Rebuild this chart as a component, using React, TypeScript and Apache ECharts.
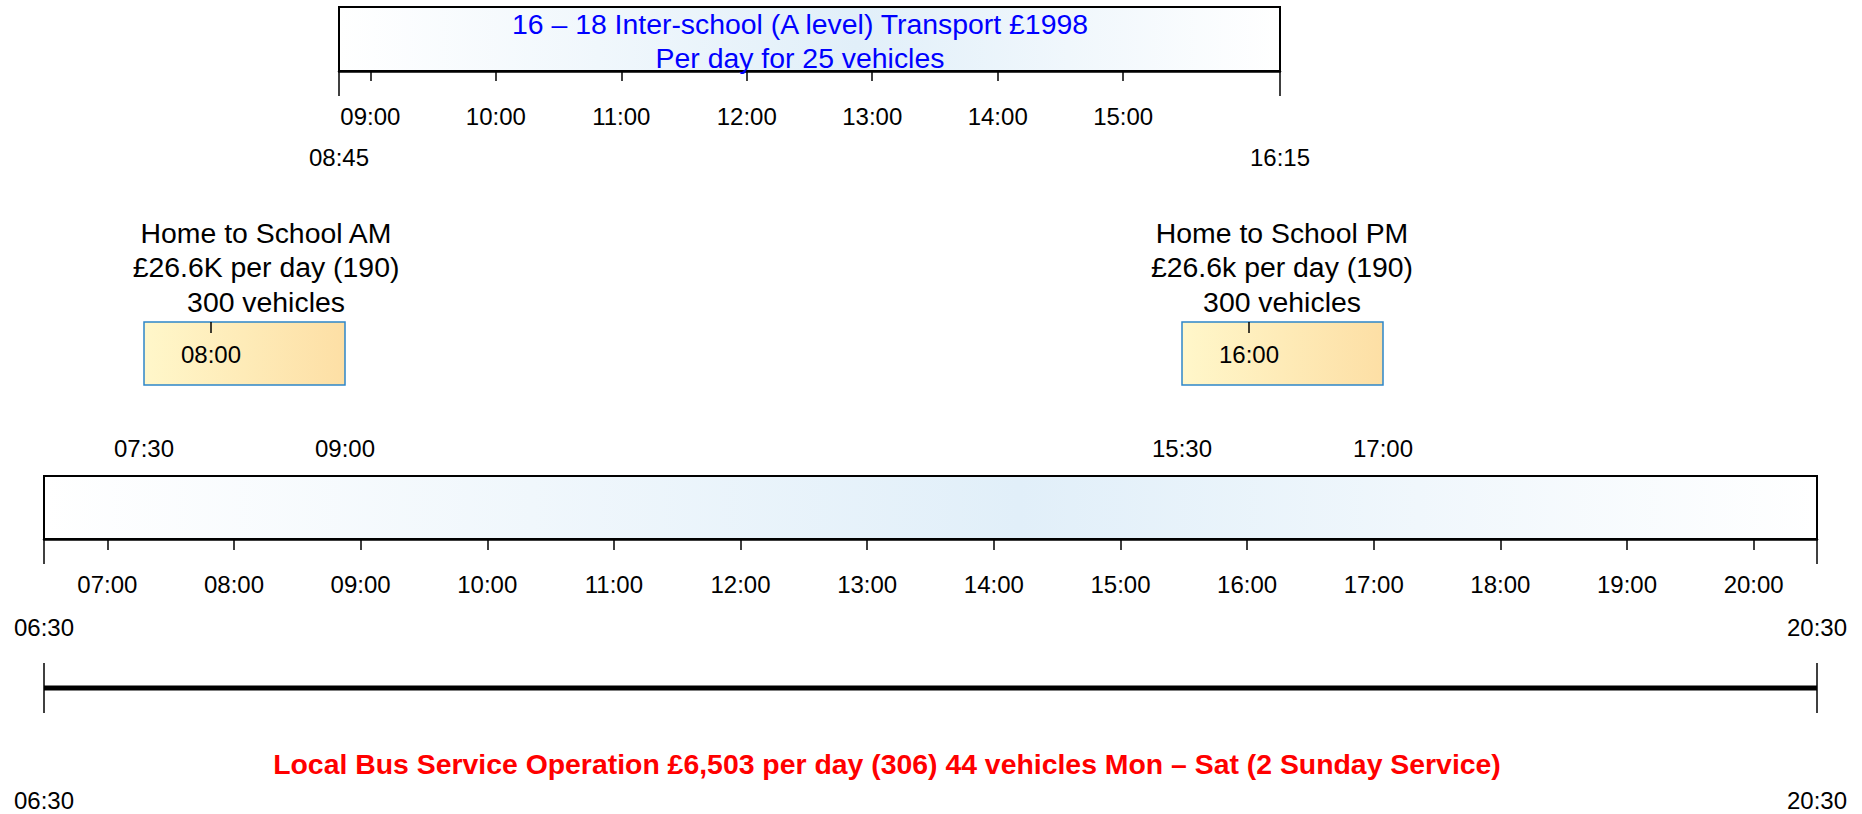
import React, { useEffect, useRef } from "react";
import * as echarts from "echarts";

// ---- data ----
const interSchoolSpan = ["08:45", "16:15"];
const interSchoolHours = ["09:00", "10:00", "11:00", "12:00", "13:00", "14:00", "15:00"];
const interSchoolText = ["16 – 18 Inter-school (A level) Transport £1998", "Per day for 25 vehicles"];

const amSpan = ["07:30", "09:00"];
const amMarks = ["08:00"];
const amText = ["Home to School AM", "£26.6K per day (190)", "300 vehicles"];

const pmSpan = ["15:30", "17:00"];
const pmMarks = ["16:00"];
const pmText = ["Home to School PM", "£26.6k per day (190)", "300 vehicles"];

const daySpan = ["06:30", "20:30"];
const dayHours = [
  "07:00", "08:00", "09:00", "10:00", "11:00", "12:00", "13:00",
  "14:00", "15:00", "16:00", "17:00", "18:00", "19:00", "20:00",
];

const busSpan = ["06:30", "20:30"];
const busText =
  "Local Bus Service Operation £6,503 per day (306) 44 vehicles Mon – Sat (2 Sunday Service)";

// ---- helpers ----
const FONT = "'Liberation Sans', Arial, Helvetica, sans-serif";
const toMin = (s: string) => {
  const [h, m] = s.split(":").map(Number);
  return h * 60 + m;
};
const pad = (n: number) => (n < 10 ? "0" + n : "" + n);
const fmt = (v: number) => pad(Math.floor(v / 60)) + ":" + pad(Math.round(v % 60));

const blueGrad = {
  type: "linear", x: 0, y: 0, x2: 1, y2: 0,
  colorStops: [
    { offset: 0, color: "#ffffff" },
    { offset: 0.55, color: "#e1eff9" },
    { offset: 1, color: "#ffffff" },
  ],
};
const yellowGrad = {
  type: "linear", x: 0, y: 0, x2: 1, y2: 0,
  colorStops: [
    { offset: 0, color: "#fff7ca" },
    { offset: 1, color: "#fddfa5" },
  ],
};

function baseAxis(gridIndex: number, span: string[], position: string) {
  return {
    type: "value",
    gridIndex,
    position,
    min: toMin(span[0]),
    max: toMin(span[1]),
    z: 10,
    splitLine: { show: false },
    axisLine: { show: false, onZero: false },
    axisTick: { show: false },
    axisLabel: { show: false },
  };
}
const labelStyle = { fontSize: 24, color: "#000", fontFamily: FONT, formatter: fmt };

function hourAxis(gridIndex: number, span: string[], hours: string[], margin: number, tickLen: number) {
  const vals = hours.map(toMin);
  return {
    ...baseAxis(gridIndex, span, "bottom"),
    axisLine: { show: true, onZero: false, lineStyle: { color: "#000", width: 2.5 } },
    axisTick: { show: true, length: tickLen, customValues: vals, lineStyle: { color: "#000", width: 1.5 } },
    axisLabel: { show: true, ...labelStyle, margin, customValues: vals },
  };
}
function endAxis(gridIndex: number, span: string[], margin: number, tickLen: number) {
  const vals = span.map(toMin);
  return {
    ...baseAxis(gridIndex, span, "bottom"),
    axisTick: { show: tickLen > 0, length: tickLen, customValues: vals, lineStyle: { color: "#000", width: 1.5 } },
    axisLabel: { show: true, ...labelStyle, margin, customValues: vals },
  };
}
function innerAxis(gridIndex: number, span: string[], marks: string[]) {
  const vals = marks.map(toMin);
  return {
    ...baseAxis(gridIndex, span, "top"),
    axisTick: { show: true, inside: true, length: 11, customValues: vals, lineStyle: { color: "#000", width: 1.5 } },
    axisLabel: { show: true, inside: true, ...labelStyle, margin: 20, customValues: vals },
  };
}
function boxSeries(axisIndex: number, span: string[], fill: any, border: string, bw: number) {
  const a = toMin(span[0]);
  const b = toMin(span[1]);
  return {
    type: "line",
    xAxisIndex: axisIndex,
    yAxisIndex: axisIndex,
    data: [[a, 0.5], [b, 0.5]],
    symbol: "none",
    silent: true,
    lineStyle: { opacity: 0 },
    markArea: {
      silent: true,
      itemStyle: { color: fill, borderColor: border, borderWidth: bw },
      data: [[{ xAxis: a }, { xAxis: b }]],
    },
  };
}

export default function App() {
  const ref = useRef<HTMLDivElement>(null);
  useEffect(() => {
    if (!ref.current) return;
    const chart = echarts.init(ref.current, undefined, { renderer: "svg" });

    const grids = [
      { left: 339, top: 7, width: 941, height: 64 },
      { left: 144, top: 322, width: 201, height: 63 },
      { left: 1182, top: 322, width: 201, height: 63 },
      { left: 44, top: 476, width: 1773, height: 63 },
      { left: 44, top: 663, width: 1773, height: 50 },
    ];
    const xAxis = [
      hourAxis(0, interSchoolSpan, interSchoolHours, 33, 10), // 0
      endAxis(0, interSchoolSpan, 74, 25), // 1
      innerAxis(1, amSpan, amMarks), // 2
      endAxis(1, amSpan, 51, 0), // 3
      innerAxis(2, pmSpan, pmMarks), // 4
      endAxis(2, pmSpan, 51, 0), // 5
      hourAxis(3, daySpan, dayHours, 33, 11), // 6
      endAxis(3, daySpan, 76, 25), // 7
      endAxis(4, busSpan, 75, 0), // 8
    ];
    const yAxis = xAxis.map((ax: any, i: number) => ({
      type: "value",
      gridIndex: ax.gridIndex,
      min: i === 8 ? -1 : 0,
      max: 1,
      show: false,
    }));
    const busA = toMin(busSpan[0]);
    const busB = toMin(busSpan[1]);
    const series: any[] = [
      boxSeries(0, interSchoolSpan, blueGrad, "#000", 2),
      boxSeries(2, amSpan, yellowGrad, "#2e86c9", 1.5),
      boxSeries(4, pmSpan, yellowGrad, "#2e86c9", 1.5),
      boxSeries(6, daySpan, blueGrad, "#000", 2),
      {
        type: "line",
        xAxisIndex: 8,
        yAxisIndex: 8,
        data: [[busA, 0], [busB, 0]],
        symbol: "none",
        silent: true,
        lineStyle: { color: "#000", width: 5 },
        markLine: {
          silent: true,
          symbol: ["none", "none"],
          label: { show: false },
          lineStyle: { color: "#000", width: 1.5, type: "solid" },
          data: [{ xAxis: busA }, { xAxis: busB }],
        },
      },
    ];

    const textEl = (x: number, y: number, lines: string[], size: number, color: string, lh: number, bold = false) => ({
      type: "text",
      x,
      y,
      z: 100,
      style: {
        text: lines.join("\n"),
        fontSize: size,
        fontFamily: FONT,
        fontWeight: bold ? "bold" : "normal",
        fill: color,
        align: "center",
        verticalAlign: "middle",
        lineHeight: lh,
      },
    });

    chart.setOption({
      animation: false,
      backgroundColor: "#ffffff",
      grid: grids,
      xAxis,
      yAxis,
      series,
      graphic: [
        textEl(800, 41, interSchoolText, 28.4, "#0000ff", 34),
        textEl(266, 267, amText, 28.4, "#000", 34.5),
        textEl(1282, 267, pmText, 28.4, "#000", 34.5),
        textEl(887, 764, [busText], 28.4, "#ff0000", 34, true),
      ],
    });
    return () => chart.dispose();
  }, []);
  return (
    <div
      ref={ref}
      style={{ position: "fixed", left: 0, top: 0, width: 1862, height: 814 }}
    />
  );
}
